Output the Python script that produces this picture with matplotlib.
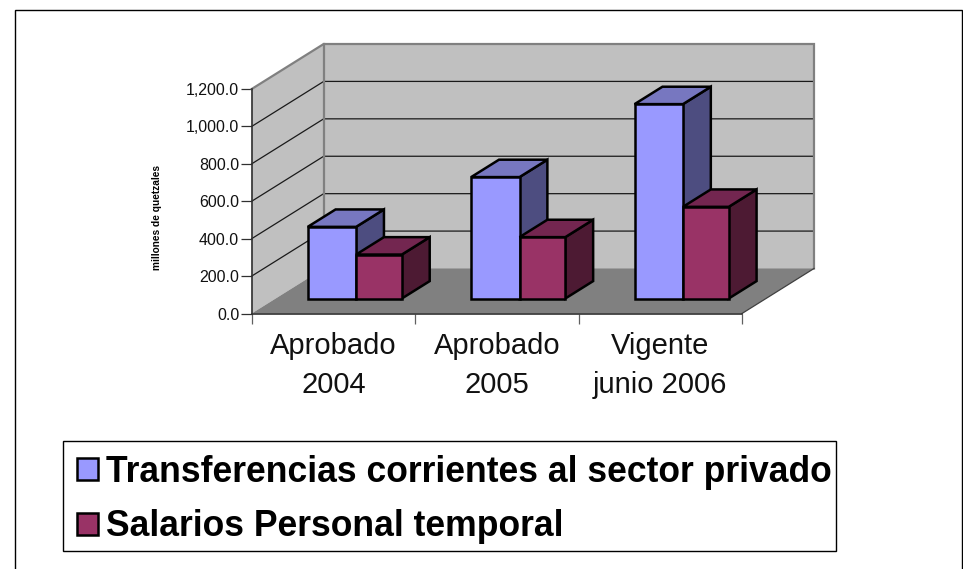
import matplotlib
matplotlib.use('Agg')
import matplotlib.pyplot as plt
from matplotlib.patches import Polygon, Rectangle, Patch

plt.rcParams['font.family'] = ['Liberation Sans', 'DejaVu Sans']

categories = ['Aprobado\n2004', 'Aprobado\n2005', 'Vigente\njunio 2006']
transferencias = [383, 649, 1039]
salarios = [235, 328, 490]
y_ticks = [0, 200, 400, 600, 800, 1000, 1200]
series_names = ['Transferencias corrientes al sector privado', 'Salarios Personal temporal']
y_title = 'millones de quetzales'

W, H = 963, 569
# front plane of the chart, pixels
left, right, top, bottom = 251.7, 742.0, 89.0, 313.5
# how far the full depth shifts things, pixels
depth_x, depth_y = 72.0, 45.0

fig = plt.figure(figsize=(W / 100, H / 100), dpi=100)
fig.patch.set_facecolor('white')
ax = fig.add_axes([left / W, 1 - bottom / H, (right - left) / W, (bottom - top) / H])
ax.set_xlim(0, 3)
ax.set_ylim(0, 1200)
ax.patch.set_visible(False)

dx = depth_x / ((right - left) / 3)
dy = depth_y / ((bottom - top) / 1200)


def proj(x, v, d):
    return (x + d * dx, v + d * dy)


def face(points, color, edge, lw, z):
    p = Polygon([proj(*q) for q in points], closed=True, facecolor=color, edgecolor=edge,
                linewidth=lw, joinstyle='miter', clip_on=False, zorder=z)
    ax.add_patch(p)


# walls and floor
face([(0, 0, 0), (0, 1200, 0), (0, 1200, 1), (0, 0, 1)], '#c0c0c0', 'none', 0, 1)
face([(0, 0, 1), (0, 1200, 1), (3, 1200, 1), (3, 0, 1)], '#c0c0c0', 'none', 0, 1)
face([(0, 0, 0), (0, 0, 1), (3, 0, 1), (3, 0, 0)], '#808080', 'none', 0, 1.5)

for v in y_ticks[1:-1]:
    xs, ys = zip(proj(0, v, 0), proj(0, v, 1), proj(3, v, 1))
    ax.plot(xs, ys, color='#1a1a1a', lw=0.9, clip_on=False, zorder=2)

# wall outline in grey
xs, ys = zip(proj(0, 1200, 0), proj(0, 1200, 1), proj(3, 1200, 1), proj(3, 0, 1))
ax.plot(xs, ys, color='#808080', lw=1.6, clip_on=False, zorder=2, solid_joinstyle='miter')
xs, ys = zip(proj(0, 0, 1), proj(0, 1200, 1))
ax.plot(xs, ys, color='#808080', lw=1.6, clip_on=False, zorder=2)
xs, ys = zip(proj(3, 0, 0), proj(3, 0, 1))
ax.plot(xs, ys, color='#404040', lw=0.9, clip_on=False, zorder=2)


def bar3d(x0, x1, v, front, top_c, side, z):
    d0, d1 = 1 / 3, 0.72
    face([(x1, 0, d0), (x1, v, d0), (x1, v, d1), (x1, 0, d1)], side, 'black', 1.8, z)
    face([(x0, v, d0), (x0, v, d1), (x1, v, d1), (x1, v, d0)], top_c, 'black', 1.8, z)
    face([(x0, 0, d0), (x0, v, d0), (x1, v, d0), (x1, 0, d0)], front, 'black', 1.8, z)


for i in range(len(categories)):
    a = i + 0.196
    bar3d(a, a + 0.296, transferencias[i], '#9999ff', '#7777c0', '#4d4d80', 3 + i)
    bar3d(a + 0.296, a + 0.576, salarios[i], '#993366', '#732650', '#4d1a33', 3.5 + i)

# axes
for s in ['top', 'right']:
    ax.spines[s].set_visible(False)
for s in ['left', 'bottom']:
    ax.spines[s].set_color('#303030')
    ax.spines[s].set_linewidth(1.2)
    ax.spines[s].set_zorder(8)
ax.set_yticks(y_ticks)
ax.set_yticklabels(['{:,.1f}'.format(v) for v in y_ticks], fontsize=11.5, color='#111111')
ax.set_xticks([0, 1, 2, 3])
ax.set_xticklabels([])
ax.tick_params(axis='y', length=8, width=0.9, pad=1, color='#303030')
ax.tick_params(axis='x', length=7, width=0.9, color='#606060')
for i, c in enumerate(categories):
    ax.annotate(c, (i + 0.5, 0), xytext=(0, -13), textcoords='offset points', ha='center', va='top',
                fontsize=21, linespacing=1.5, color='#111111', annotation_clip=False)

fig.text(157 / W, 1 - 217 / H, y_title, rotation=90, fontsize=7.3, fontweight='bold',
         ha='center', va='center', color='black')

# legend, its box is drawn by hand so the size is exact
handles = [Patch(facecolor='#9999ff', edgecolor='black', linewidth=1.8, label=series_names[0]),
           Patch(facecolor='#993366', edgecolor='black', linewidth=1.8, label=series_names[1])]
leg = fig.legend(handles=handles, loc='upper left', bbox_to_anchor=(63 / W, 1 - 441 / H),
                 bbox_transform=fig.transFigure, fontsize=25.6, frameon=False,
                 borderpad=0.38, labelspacing=0.56,
                 handlelength=0.6, handleheight=0.55, handletextpad=0.23, borderaxespad=0)
for t in leg.get_texts():
    t.set_fontweight('bold')
fig.add_artist(Rectangle((63 / W, 1 - 551 / H), 773 / W, 110 / H, transform=fig.transFigure,
                         fill=False, edgecolor='black', linewidth=1.0))

# outer border runs off the bottom of the picture
fig.add_artist(Rectangle((15 / W, -0.02), 947 / W, 1.02 - 10 / H, transform=fig.transFigure,
                         fill=False, edgecolor='black', linewidth=1.0))

fig.savefig('out.png', dpi=100)
